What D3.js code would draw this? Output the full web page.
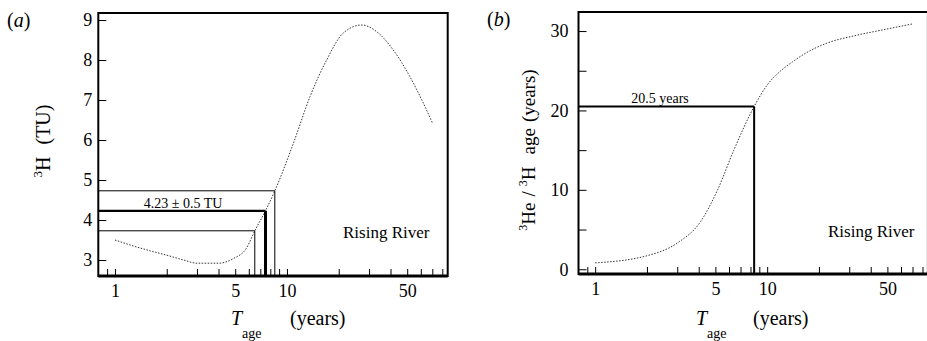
<!DOCTYPE html>
<html><head><meta charset="utf-8">
<script src="https://cdn.jsdelivr.net/npm/d3@7"></script>
<style>
body{margin:0;background:#fff;}
svg{display:block;font-family:"Liberation Serif","Times New Roman",serif;}
</style></head>
<body><svg id="c" width="927" height="341"></svg>
<script>
// ---- data ----
const xTickValues = [0.9,1,2,3,4,5,6,7,8,9,10,20,30,40,50,60,70,80];
const xTickLabels = [1,5,10,50];
const yTicksA = [3,4,5,6,7,8,9];
const yTicksB = [0,5,10,15,20,25,30];
const yLabelsB = [0,10,20,30];
// panel (a): tritium vs T_age
const tA = [1,1.28,1.6,2.0,2.5,3.0,4.0,4.9,5.8,6.5,7.5,8.5,10.9,13.6,17.0,21.2,27.2,33.2,41.5,51.9,62.1,70];
const hA = [3.5,3.35,3.23,3.12,3.0,2.92,2.92,3.04,3.29,3.73,4.23,4.73,5.92,7.08,8.0,8.67,8.875,8.71,8.25,7.58,6.92,6.43];
// measured tritium and uncertainty band
const tritiumVals = [3.73,4.23,4.73];
const tritiumAges = [6.5,7.5,8.5];
// panel (b): 3He/3H age vs T_age
const tB = [1,2,3,4.1,5.15,6.4,8.4,10,12,14,16.4,22.4,32,45.8,70];
const yB = [0.8,1.7,3.3,6.0,10.0,15.0,20.5,23.2,25.0,26.1,27.1,28.5,29.4,30.1,30.9];
const heAge = [20.5];
const heT = [8.4];

const svg = d3.select("#c");

function panel(o){
  const g = svg.append("g");
  const x = d3.scaleLog().domain([0.8,86]).range(o.xr);
  const y = d3.scaleLinear().domain(o.yd).range(o.yr);
  // box
  g.append("rect").attr("x",o.xr[0]).attr("y",o.yr[1]).attr("width",o.xr[1]-o.xr[0]).attr("height",o.yr[0]-o.yr[1])
    .attr("fill","none").attr("stroke","#000").attr("stroke-width",2);
  g.append("line").attr("x1",o.xr[0]).attr("x2",o.xr[1]).attr("y1",o.yr[0]).attr("y2",o.yr[0]).attr("stroke","#000").attr("stroke-width",3);
  // x axis
  const lab = new Set(xTickLabels);
  const ax = g.append("g").attr("transform",`translate(0,${o.yr[0]})`)
    .call(d3.axisBottom(x).tickValues(xTickValues).tickSize(-7).tickPadding(8)
      .tickFormat(d=>lab.has(d)?String(d):""));
  ax.select(".domain").remove();
  ax.selectAll("line").attr("stroke","#000").attr("stroke-width",1);
  ax.selectAll("text").attr("font-size",18).attr("font-family","Liberation Serif").attr("fill","#000");
  // y axis
  const ylab = new Set(o.yl);
  const ay = g.append("g").attr("transform",`translate(${o.xr[0]},0)`)
    .call(d3.axisLeft(y).tickValues(o.yt).tickSize(-8).tickPadding(o.ypad)
      .tickFormat(d=>ylab.has(d)?String(d):""));
  ay.select(".domain").remove();
  ay.selectAll("line").attr("stroke","#000").attr("stroke-width",1);
  ay.selectAll("text").attr("font-size",18).attr("font-family","Liberation Serif").attr("fill","#000");
  // curve
  const line = d3.line().x(d=>x(d[0])).y(d=>y(d[1])).curve(d3.curveMonotoneX);
  g.append("path").datum(o.data).attr("d",line).attr("fill","none")
    .attr("stroke","#333").attr("stroke-width",1).attr("stroke-dasharray","1.5,1.5");
  return {g,x,y};
}

// ---- panel (a) ----
const A = panel({xr:[98.3,447.7], yd:[2.6,9.175], yr:[276,13], yt:yTicksA, yl:yTicksA, ypad:6,
  data:tA.map((t,i)=>[t,hA[i]])});
tritiumVals.forEach((v,i)=>{
  const w = i===1?2.2:1;
  A.g.append("line").attr("x1",A.x.range()[0]).attr("x2",A.x(tritiumAges[i]))
    .attr("y1",A.y(v)).attr("y2",A.y(v)).attr("stroke","#000").attr("stroke-width",w);
  A.g.append("line").attr("x1",A.x(tritiumAges[i])).attr("x2",A.x(tritiumAges[i]))
    .attr("y1",A.y(v)).attr("y2",A.y.range()[0]).attr("stroke","#000").attr("stroke-width",i===1?3:1);
});
A.g.append("text").attr("x",183).attr("y",A.y(tritiumVals[1])-3).attr("text-anchor","middle")
  .attr("font-size",14).text("4.23 ± 0.5 TU");
A.g.append("text").attr("x",343).attr("y",238).attr("font-size",17).text("Rising River");
svg.append("text").attr("x",7).attr("y",27).attr("font-size",20)
  .html('(<tspan font-style="italic">a</tspan>)');
// y title a
{
  const t = svg.append("text").attr("transform","translate(50,141) rotate(-90)").attr("text-anchor","middle").attr("font-size",20);
  t.append("tspan").attr("font-size",13).attr("dy",-8).text("3");
  t.append("tspan").attr("dy",8).text("H");
  t.append("tspan").attr("dx",12).text("(TU)");
}
// x title (T with subscript "age", then "(years)")
function xTitle(xT, xY){
  const t = svg.append("text").attr("x",xT).attr("y",325).attr("font-size",20);
  t.append("tspan").attr("font-style","italic").text("T");
  t.append("tspan").attr("x",xT+11).attr("dy",13).attr("font-size",14).text("age");
  t.append("tspan").attr("x",xY).attr("dy",-13).text("(years)");
}
xTitle(231,290);

// ---- panel (b) ----
const B = panel({xr:[578.5,927.9], yd:[-0.6,32.4], yr:[274,12], yt:yTicksB, yl:yLabelsB, ypad:10,
  data:tB.map((t,i)=>[t,yB[i]])});
B.g.append("line").attr("x1",B.x.range()[0]).attr("x2",B.x(heT[0]))
  .attr("y1",B.y(heAge[0])).attr("y2",B.y(heAge[0])).attr("stroke","#000").attr("stroke-width",2.2);
B.g.append("line").attr("x1",B.x(heT[0])).attr("x2",B.x(heT[0]))
  .attr("y1",B.y(heAge[0])).attr("y2",B.y.range()[0]).attr("stroke","#000").attr("stroke-width",2);
B.g.append("text").attr("x",660).attr("y",B.y(heAge[0])-3).attr("text-anchor","middle")
  .attr("font-size",14).text("20.5 years");
B.g.append("text").attr("x",828).attr("y",237).attr("font-size",17).text("Rising River");
svg.append("text").attr("x",487).attr("y",26).attr("font-size",20)
  .html('(<tspan font-style="italic">b</tspan>)');
{
  const t = svg.append("text").attr("transform","translate(535,150) rotate(-90)").attr("text-anchor","middle").attr("font-size",19);
  t.append("tspan").attr("font-size",12).attr("dy",-8).text("3");
  t.append("tspan").attr("dy",8).text("He");
  t.append("tspan").attr("dx",6).text("/");
  t.append("tspan").attr("font-size",12).attr("dx",5).attr("dy",-8).text("3");
  t.append("tspan").attr("dy",8).text("H");
  t.append("tspan").attr("dx",12).text("age");
  t.append("tspan").attr("dx",6).text("(years)");
}
xTitle(696,753);
</script></body></html>
